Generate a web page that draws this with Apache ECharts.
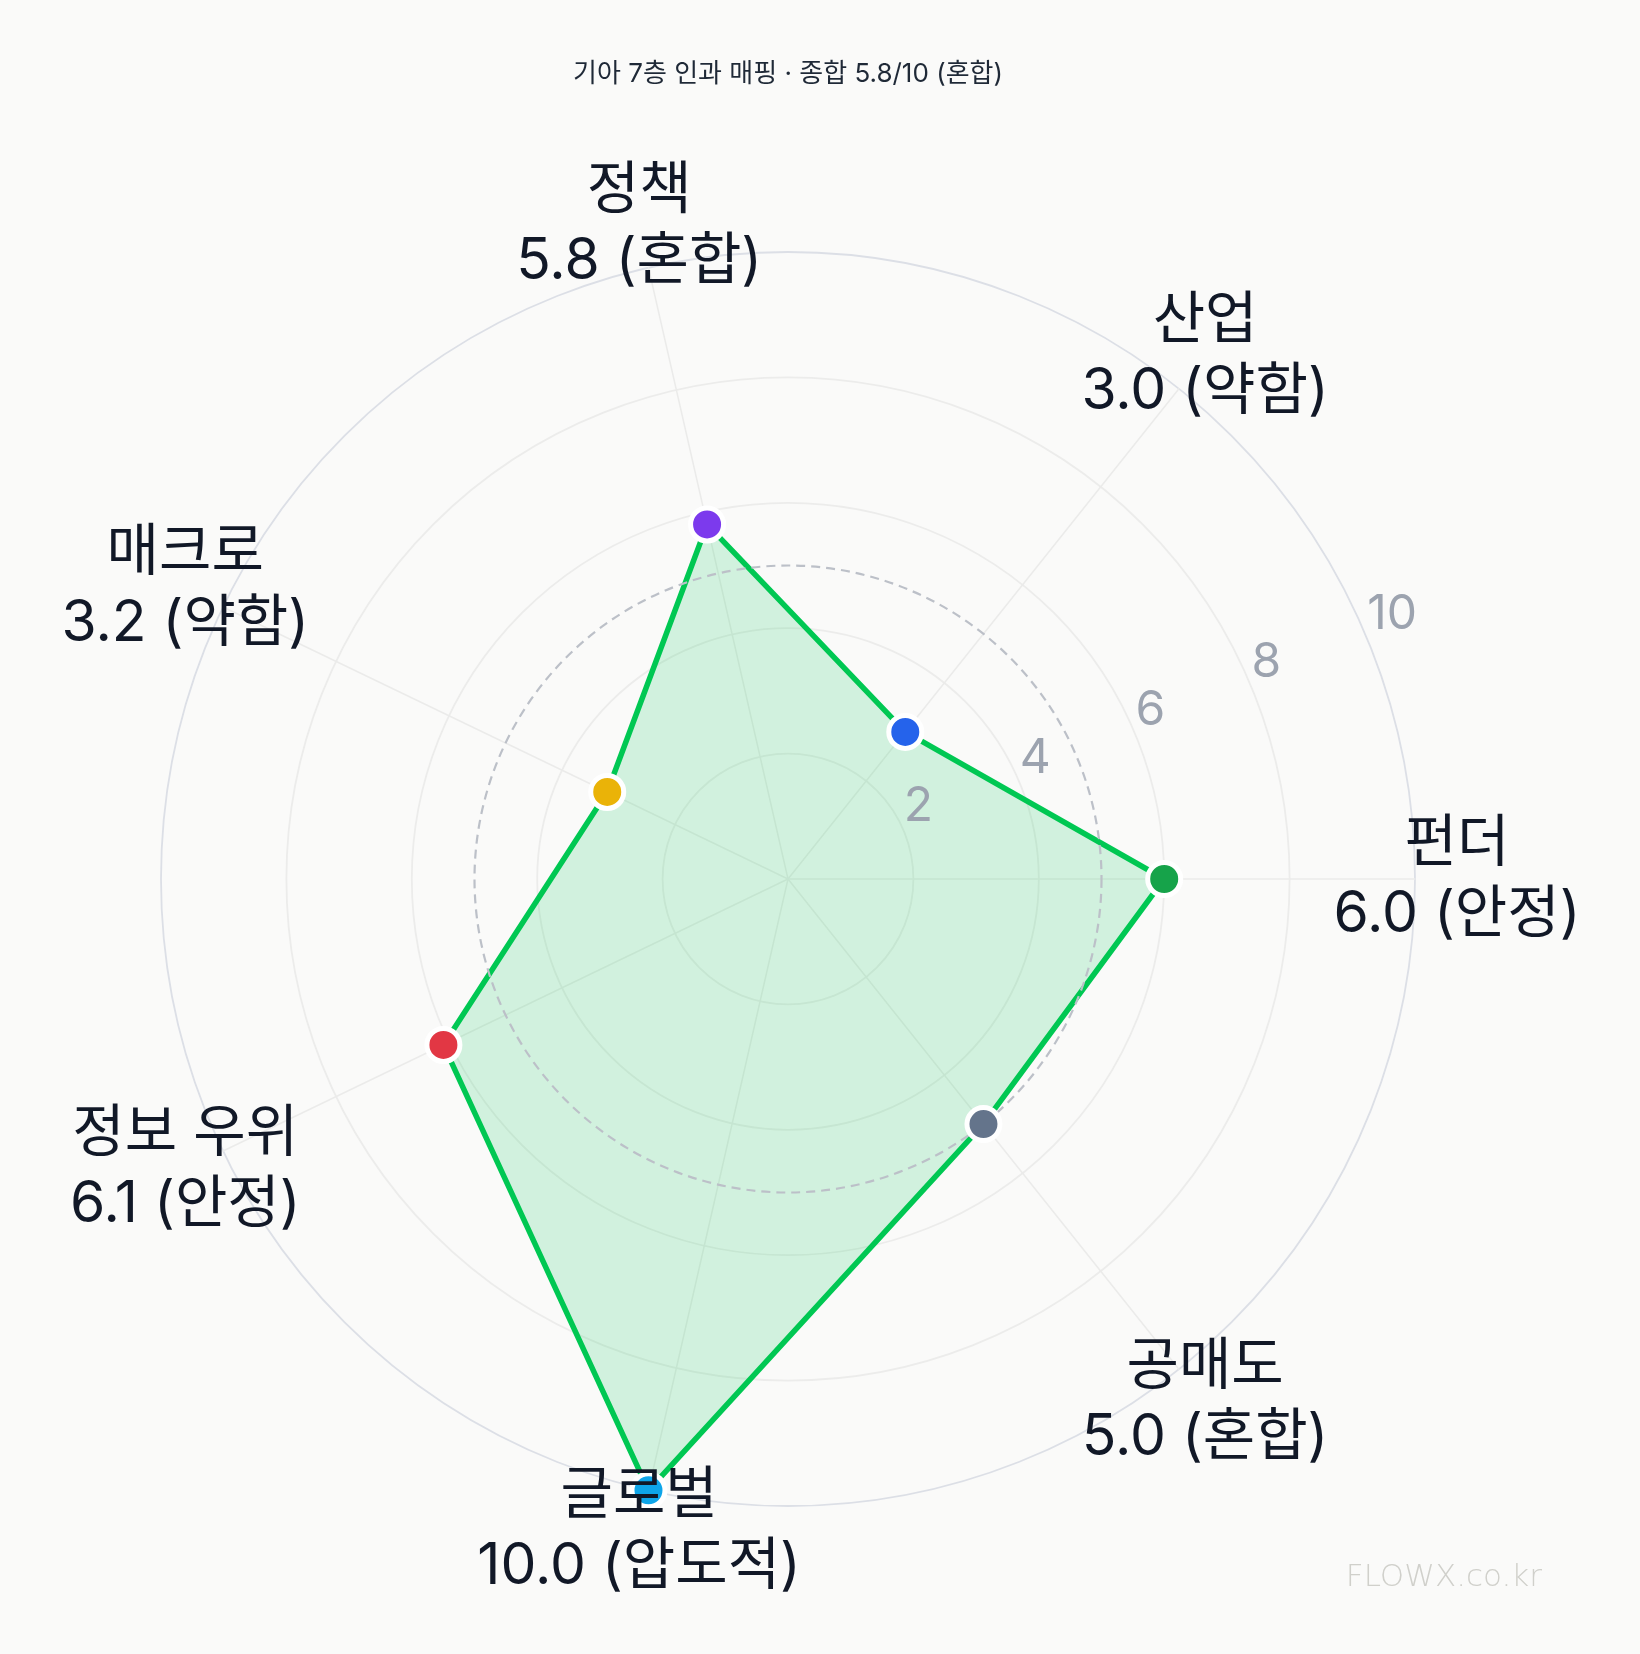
<!DOCTYPE html>
<html>
<head>
<meta charset="utf-8">
<script src="https://cdn.jsdelivr.net/npm/echarts@6/dist/echarts.min.js"></script>
<style>
html,body{margin:0;padding:0;background:#fafaf9;}
#chart{width:1640px;height:1654px;}
</style>
</head>
<body>
<div id="chart"></div>
<script>
const titleText = '기아 7층 인과 매핑 · 종합 5.8/10 (혼합)';
const indicators = ['펀더', '산업', '정책', '매크로', '정보 우위', '글로벌', '공매도'];
const scores = [6.0, 3.0, 5.8, 3.2, 6.1, 10.0, 5.0];
const grades = ['안정', '약함', '혼합', '약함', '안정', '압도적', '혼합'];
const pointColors = ['#16a34a', '#2563eb', '#7c3aed', '#eab308', '#e23744', '#0ea5e9', '#64748b'];
const radialTicks = [2, 4, 6, 8, 10];
const scaleMax = 10;
const referenceLevel = 5;
const watermark = 'FLOWX.co.kr';

const FONT = "Inter, 'Noto Sans CJK KR', sans-serif";
const CENTER = [788, 879];
const RADIUS = 627;

const chart = echarts.init(document.getElementById('chart'), null, {renderer: 'canvas'});

const baseRadar = {
  center: CENTER,
  radius: RADIUS,
  startAngle: 0,
  shape: 'circle',
  axisTick: {show: false},
  axisLabel: {show: false},
  splitArea: {show: false}
};

const option = {
  backgroundColor: '#fafaf9',
  animation: false,
  title: {
    text: titleText,
    left: CENTER[0] - 5,
    textAlign: 'center',
    top: 56,
    textStyle: {fontSize: 26, fontWeight: 'normal', color: '#1f2937', fontFamily: FONT}
  },
  graphic: [{
    type: 'text',
    right: 98,
    top: 1562,
    z: 50,
    style: {text: watermark, fontSize: 31, fontFamily: "'DejaVu Sans', sans-serif", fontWeight: 'lighter', fill: '#d0d0cb'}
  }],
  radar: [Object.assign({}, baseRadar, {
    splitNumber: radialTicks.length,
    indicator: indicators.map(n => ({name: n, min: 0, max: scaleMax})),
    axisName: {show: false},
    axisLine: {lineStyle: {color: '#ebebea', width: 1.5}},
    splitLine: {lineStyle: {color: ['#ececeb', '#ececeb', '#ececeb', '#ececeb', '#ececeb', '#dcdfe6'], width: 1.8}}
  }), Object.assign({}, baseRadar, {
    splitNumber: scaleMax / referenceLevel,
    z: 3,
    indicator: indicators.map(n => ({name: '', min: 0, max: scaleMax})),
    axisName: {show: false},
    axisLine: {show: false},
    splitLine: {lineStyle: {color: ['rgba(0,0,0,0)', '#bcc0c8', 'rgba(0,0,0,0)'], width: 2.2, type: [9, 6]}}
  }), Object.assign({}, baseRadar, {
    splitNumber: 1,
    z: 20,
    indicator: indicators.map(n => ({name: n, min: 0, max: scaleMax})),
    nameGap: 42,
    axisName: {
      formatter: (name) => {
        const i = indicators.indexOf(name);
        return name + '\n' + scores[i].toFixed(1) + ' (' + grades[i] + ')';
      },
      color: '#111827',
      fontSize: 57,
      lineHeight: 71,
      fontFamily: FONT,
      align: 'center',
      verticalAlign: 'middle'
    },
    axisLine: {show: false},
    splitLine: {show: false}
  })],
  polar: [
    {center: CENTER, radius: RADIUS},
    {center: CENTER, radius: RADIUS}
  ],
  angleAxis: [
    {polarIndex: 0, type: 'value', min: 0, max: indicators.length, startAngle: 0, clockwise: false, show: false},
    {polarIndex: 1, type: 'value', min: 0, max: 360, startAngle: 22.5, clockwise: false, show: false}
  ],
  radiusAxis: [
    {polarIndex: 0, type: 'value', min: 0, max: scaleMax, show: false},
    {
      polarIndex: 1, type: 'value', min: 0, max: scaleMax, interval: 2, z: 10,
      axisLine: {show: false}, axisTick: {show: false}, splitLine: {show: false},
      axisLabel: {
        show: true, margin: 0, align: 'left', verticalAlign: 'bottom',
        color: '#9ca3af', fontSize: 48, fontFamily: FONT,
        formatter: (v) => radialTicks.includes(v) ? String(v) : ''
      }
    }
  ],
  series: [{
    type: 'radar',
    radarIndex: 0,
    z: 2,
    symbol: 'none',
    lineStyle: {color: '#00c853', width: 5.5},
    areaStyle: {color: 'rgba(0,197,83,0.16)', opacity: 1},
    data: [{value: scores, name: '종합'}]
  }, {
    type: 'scatter',
    coordinateSystem: 'polar',
    polarIndex: 0,
    z: 6,
    symbolSize: 33,
    itemStyle: {borderColor: '#ffffff', borderWidth: 5, opacity: 1},
    data: scores.map((v, i) => ({value: [v, i], itemStyle: {color: pointColors[i]}}))
  }]
};
chart.setOption(option);
</script>
</body>
</html>
